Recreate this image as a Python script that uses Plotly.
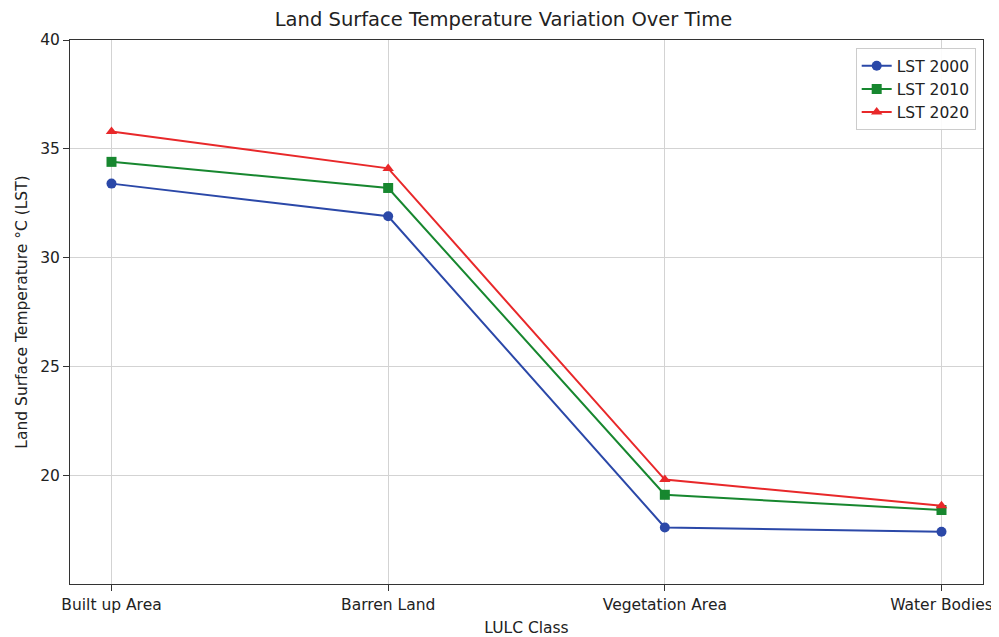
import plotly.graph_objects as go

categories = ["Built up Area", "Barren Land", "Vegetation Area", "Water Bodies"]
lst_2000 = [33.4, 31.9, 17.6, 17.4]
lst_2010 = [34.4, 33.2, 19.1, 18.4]
lst_2020 = [35.8, 34.1, 19.8, 18.6]
y_ticks = [20, 25, 30, 35, 40]

x = list(range(len(categories)))

fig = go.Figure()
series = [
    ("LST 2000", lst_2000, "#2b48a8", "circle"),
    ("LST 2010", lst_2010, "#17872f", "square"),
    ("LST 2020", lst_2020, "#e8282a", "triangle-up"),
]
for name, vals, color, sym in series:
    fig.add_trace(go.Scatter(
        x=x, y=vals, name=name, mode="lines+markers",
        line=dict(color=color, width=2),
        marker=dict(symbol=sym, size=10, color=color),
    ))

axis_common = dict(
    showline=True, linecolor="#333", linewidth=1, mirror=True,
    showgrid=True, gridcolor="#d3d3d3", gridwidth=1,
    ticks="outside", ticklen=6, tickcolor="#333",
    tickfont=dict(size=15.5, color="#222"), zeroline=False, automargin=False,
)
fig.update_xaxes(range=[-0.15, 3.15], tickvals=x, ticktext=categories,
                 title=dict(text="LULC Class", font=dict(size=15.5, color="#222"), standoff=9),
                 **axis_common)
fig.update_yaxes(range=[15, 40], tickvals=y_ticks,
                 title=dict(text="Land Surface Temperature °C (LST)", font=dict(size=15.5, color="#222"), standoff=8),
                 **axis_common)

fig.update_layout(
    width=991, height=629,
    margin=dict(l=62, r=16, t=32, b=53),
    paper_bgcolor="white", plot_bgcolor="white",
    font=dict(family="DejaVu Sans", size=15.5, color="#222"),
    title=dict(text="Land Surface Temperature Variation Over Time", x=0.5, xanchor="center",
               y=0.982, yanchor="middle", font=dict(size=19.5, color="#222")),
    legend=dict(x=0.992, y=0.985, xanchor="right", yanchor="top",
                bgcolor="rgba(255,255,255,0.9)", bordercolor="#ccc", borderwidth=1,
                font=dict(size=15.5)),
)

fig.write_html("out.html")
